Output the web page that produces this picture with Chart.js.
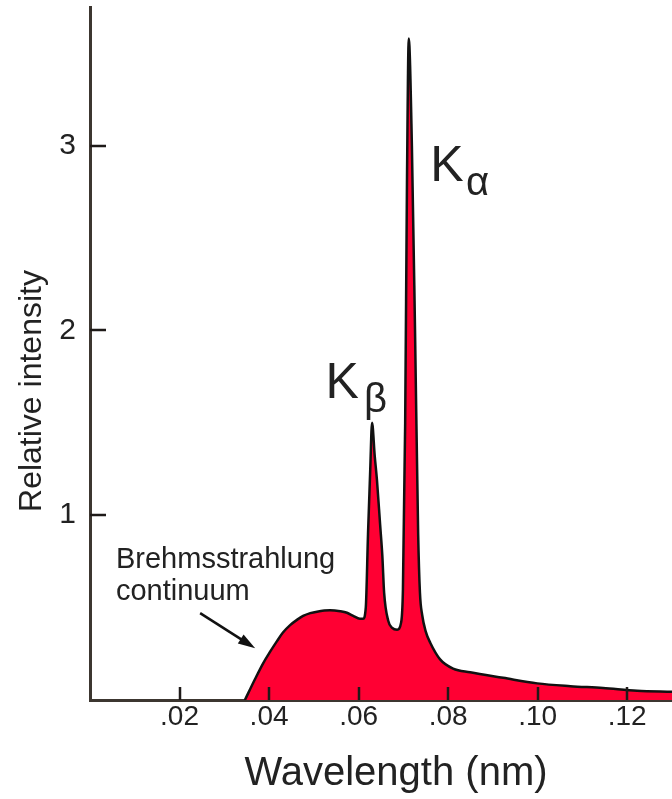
<!DOCTYPE html>
<html>
<head>
<meta charset="utf-8">
<script src="https://cdn.jsdelivr.net/npm/chart.js@4.4.1/dist/chart.umd.min.js"></script>
<style>
  html, body { margin: 0; padding: 0; background: #fff; }
  #wrap { width: 672px; height: 799px; position: relative; }
</style>
</head>
<body>
<div id="wrap"><canvas id="spectrum"></canvas></div>
<script>
// X-ray tube emission spectrum
const wavelength = [
    0.0346, 0.0369, 0.0387, 0.0402, 0.0418, 0.0431, 0.0447, 0.0463, 0.0476, 0.0492,
    0.0507, 0.0536, 0.0559, 0.0574, 0.0588, 0.0603, 0.0610, 0.0616, 0.0621, 0.0626,
    0.0630, 0.0636, 0.0641, 0.0648, 0.0653, 0.0657, 0.0666, 0.0675, 0.0686, 0.0695,
    0.0699, 0.0704, 0.0708, 0.0712, 0.0719, 0.0726, 0.0733, 0.0737, 0.0742, 0.0750,
    0.0760, 0.0782, 0.0811, 0.0849, 0.0923, 0.0999, 0.1073, 0.1146, 0.1222, 0.1300,
];
const intensity = [
    0.00, 0.115, 0.20, 0.26, 0.32, 0.365, 0.405, 0.435, 0.455, 0.47,
    0.478, 0.485, 0.48, 0.472, 0.455, 0.44, 0.44, 0.50, 0.90, 1.25,
    1.50, 1.32, 1.19, 0.95, 0.78, 0.58, 0.43, 0.39, 0.38, 0.42,
    0.60, 1.50, 2.80, 3.58, 3.00, 2.00, 0.90, 0.58, 0.46, 0.37,
    0.31, 0.22, 0.17, 0.15, 0.12, 0.09, 0.075, 0.065, 0.05, 0.045,
];
const xTickValues = [0.02, 0.04, 0.06, 0.08, 0.10, 0.12];
const yTickValues = [1, 2, 3];

const axisColor = '#3c3630';
const textColor = '#222';
const fontFamily = '"Liberation Sans", Arial, sans-serif';

// tick marks point into the plot in the original
const inwardTicks = {
    id: 'inwardTicks',
    afterDatasetsDraw(chart) {
        const { ctx, chartArea, scales: { x, y } } = chart;
        ctx.save();
        ctx.strokeStyle = '#1e1a18';
        ctx.lineWidth = 2.5;
        ctx.beginPath();
        xTickValues.forEach((v) => {
            const px = Math.round(x.getPixelForValue(v));
            ctx.moveTo(px, chartArea.bottom);
            ctx.lineTo(px, chartArea.bottom - 13);
        });
        yTickValues.forEach((v) => {
            const py = Math.round(y.getPixelForValue(v));
            ctx.moveTo(chartArea.left, py);
            ctx.lineTo(chartArea.left + 16, py);
        });
        ctx.stroke();
        ctx.restore();
    },
};

const labels = {
    id: 'labels',
    afterDraw(chart) {
        const { ctx, scales: { x, y } } = chart;
        ctx.save();
        ctx.fillStyle = textColor;
        ctx.textBaseline = 'alphabetic';

        // axis titles
        ctx.font = `40px ${fontFamily}`;
        ctx.textAlign = 'center';
        ctx.fillText('Wavelength (nm)', 396, 785);
        ctx.save();
        ctx.translate(41, 391);
        ctx.rotate(-Math.PI / 2);
        ctx.font = `32px ${fontFamily}`;
        ctx.fillText('Relative intensity', 0, 0);
        ctx.restore();

        // peak labels, placed in data coordinates
        ctx.textAlign = 'left';
        ctx.font = `50px ${fontFamily}`;
        ctx.fillText('K', x.getPixelForValue(0.0760), y.getPixelForValue(2.81));
        ctx.fillText('K', x.getPixelForValue(0.0526), y.getPixelForValue(1.635));
        ctx.font = `40px ${fontFamily}`;
        ctx.fillText('α', x.getPixelForValue(0.0840), y.getPixelForValue(2.73));
        ctx.fillText('β', x.getPixelForValue(0.0612), y.getPixelForValue(1.56));

        // continuum note with arrow
        ctx.font = `29px ${fontFamily}`;
        ctx.fillText('Brehmsstrahlung', x.getPixelForValue(0.0058), y.getPixelForValue(0.715));
        ctx.fillText('continuum', x.getPixelForValue(0.0058), y.getPixelForValue(0.54));

        const x0 = x.getPixelForValue(0.0246), y0 = y.getPixelForValue(0.47);
        const x1 = x.getPixelForValue(0.0369), y1 = y.getPixelForValue(0.28);
        const ang = Math.atan2(y1 - y0, x1 - x0);
        ctx.strokeStyle = '#111';
        ctx.lineWidth = 2.5;
        ctx.beginPath();
        ctx.moveTo(x0, y0);
        ctx.lineTo(x1 - 10 * Math.cos(ang), y1 - 10 * Math.sin(ang));
        ctx.stroke();
        ctx.beginPath();
        ctx.moveTo(x1, y1);
        ctx.lineTo(x1 - 18 * Math.cos(ang - 0.3), y1 - 18 * Math.sin(ang - 0.3));
        ctx.lineTo(x1 - 18 * Math.cos(ang + 0.3), y1 - 18 * Math.sin(ang + 0.3));
        ctx.closePath();
        ctx.fillStyle = '#111';
        ctx.fill();
        ctx.restore();
    },
};

new Chart(document.getElementById('spectrum'), {
    type: 'line',
    data: {
        datasets: [
            {
                data: wavelength.map((w, i) => ({ x: w, y: intensity[i] })),
                borderColor: '#111',
                borderWidth: 2.5,
                backgroundColor: '#ff0033',
                fill: 'origin',
                pointRadius: 0,
                cubicInterpolationMode: 'monotone',
            },
        ],
    },
    options: {
        responsive: true,
        maintainAspectRatio: false,
        animation: false,
        layout: { padding: { top: 7, right: 0, left: 0, bottom: 0 } },
        plugins: { legend: { display: false }, tooltip: { enabled: false } },
        scales: {
            x: {
                type: 'linear',
                min: 0,
                max: 0.13,
                afterFit: (s) => { s.height = 99; s.paddingLeft = 0; s.paddingRight = 0; },
                afterBuildTicks: (s) => { s.ticks = xTickValues.map((v) => ({ value: v })); },
                grid: { display: false, drawTicks: false },
                border: { display: true, color: axisColor, width: 3 },
                ticks: {
                    padding: 0,
                    color: textColor,
                    font: { family: fontFamily, size: 28 },
                    maxRotation: 0,
                    callback: (v) => v.toFixed(2).replace(/^0/, ''),
                },
            },
            y: {
                min: 0,
                max: 3.75,
                afterFit: (s) => { s.width = 90; s.paddingTop = 0; s.paddingBottom = 0; },
                afterBuildTicks: (s) => { s.ticks = yTickValues.map((v) => ({ value: v })); },
                grid: { display: false, drawTicks: false },
                border: { display: true, color: axisColor, width: 3 },
                ticks: {
                    padding: 14,
                    color: textColor,
                    font: { family: fontFamily, size: 30 },
                    callback: (v) => String(v),
                },
            },
        },
    },
    plugins: [inwardTicks, labels],
});
</script>
</body>
</html>
